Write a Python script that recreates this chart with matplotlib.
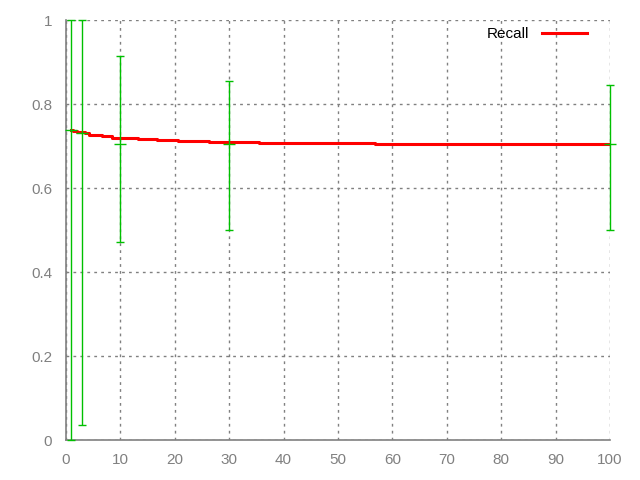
import numpy as np
import matplotlib
matplotlib.use("Agg")
import matplotlib.pyplot as plt

plt.rcParams['font.family'] = ['Liberation Sans', 'DejaVu Sans']

# Recall の階段状の曲線
recall_x = [1, 1.2, 2.1, 3.5, 4.3, 5.3, 6.7, 8.5, 10.8, 13.3, 16.7, 20.5, 26.2, 35.4, 56.8, 100]
recall_y = [0.738, 0.736, 0.733, 0.730, 0.727, 0.726, 0.723, 0.720, 0.718, 0.717,
            0.714, 0.713, 0.710, 0.707, 0.705, 0.705]

# エラーバー
err_x = [1, 3, 10, 30, 100]
err_mid = [0.738, 0.731, 0.705, 0.705, 0.705]
err_low = [0.0, 0.036, 0.471, 0.500, 0.500]
err_high = [1.0, 1.0, 0.914, 0.855, 0.845]

gray = '#808080'
green = '#00c000'

fig = plt.figure(figsize=(6.4, 4.8), dpi=100)
ax = fig.add_axes([66 / 640, 40 / 480, 544 / 640, 420 / 480])

ax.plot(recall_x, recall_y, color='red', linewidth=2.2, drawstyle='steps-post',
        label='Recall', zorder=3)

mid = np.array(err_mid)
yerr = [mid - np.array(err_low), np.array(err_high) - mid]
ax.errorbar(err_x, err_mid, yerr=yerr, fmt='_', color=green, ecolor=green,
            elinewidth=1, capsize=3, capthick=1, markersize=8, markeredgewidth=1,
            clip_on=False, zorder=4)

ax.set_xlim(0, 100)
ax.set_ylim(0, 1)
ax.set_xticks(np.arange(0, 101, 10))
ax.set_yticks([0, 0.2, 0.4, 0.6, 0.8, 1])
ax.set_yticklabels(['0', '0.2', '0.4', '0.6', '0.8', '1'])

ax.grid(True, color=gray, linestyle=(0, (2, 3)), linewidth=1)
ax.set_axisbelow(True)
for s in ['top', 'right']:
    ax.spines[s].set_visible(False)
for s in ['left', 'bottom']:
    ax.spines[s].set_color(gray)
    ax.spines[s].set_linewidth(1.2)

ax.tick_params(axis='both', length=0, labelcolor=gray, labelsize=11)
ax.tick_params(axis='x', pad=9)
ax.tick_params(axis='y', pad=10)

leg = ax.legend(loc='upper right', bbox_to_anchor=(0.983, 1.0155), frameon=False,
                markerfirst=False, fontsize=11, handlelength=2.95, handletextpad=0.85)

plt.savefig('out.png', dpi=100)
